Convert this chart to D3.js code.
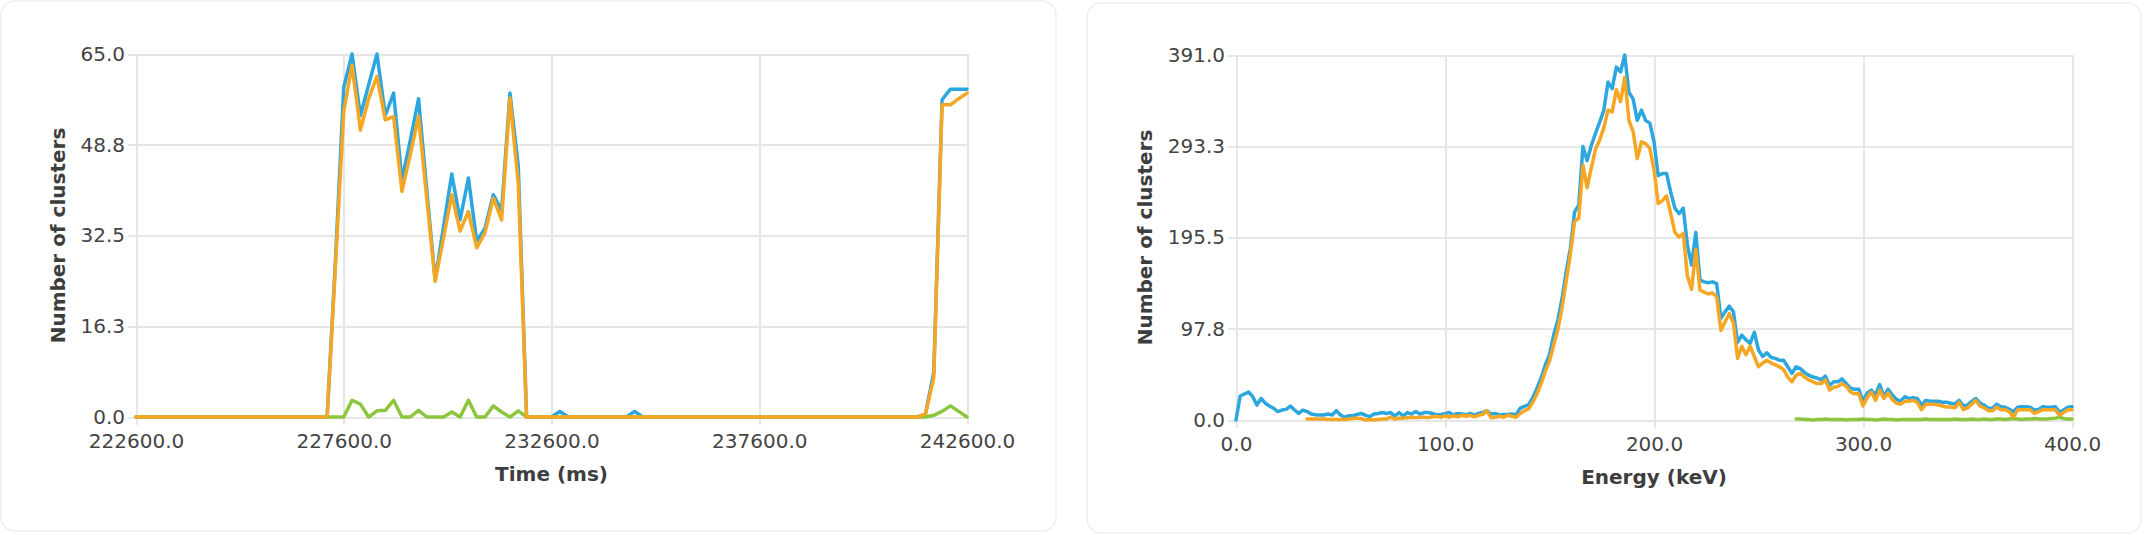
<!DOCTYPE html>
<html>
<head>
<meta charset="utf-8">
<script src="https://d3js.org/d3.v7.min.js"></script>
<style>
  body { margin: 0; background: #fff; }
  .tick text { font-family: "DejaVu Sans", Verdana, sans-serif; font-size: 20px; fill: #444; }
  .grid line { stroke: #e6e6e6; stroke-width: 2px; shape-rendering: crispEdges; }
  .grid path { display: none; }
  .title { font-family: "DejaVu Sans", Verdana, sans-serif; font-size: 20px; font-weight: bold; fill: #3d3d3d; }
  .series { fill: none; stroke-width: 3.5px; stroke-linejoin: round; stroke-linecap: round; }
</style>
</head>
<body>
<script>
// ---- left chart: clusters over time (200 ms bins, 222600..242600) ----
var timeStart = 222600, timeStep = 200;
var timeTicks = [222600, 227600, 232600, 237600, 242600];
var timeAll = [
  0,0,0,0,0,0,0,0,0,0, 0,0,0,0,0,0,0,0,0,0, 0,0,0,0,28,59,65,54,59.5,65,
  54,58,42.5,49.5,57,40.5,24.5,34,43.5,35.3, 42.8,31.5,33.8,39.8,37,58,45,0,0,0,
  0,1,0,0,0,0,0,0,0,0, 1,0,0,0,0,0,0,0,0,0, 0,0,0,0,0,0,0,0,0,0,
  0,0,0,0,0,0,0,0,0,0, 0,0,0,0,0,0.5,8,56.8,58.7,58.7, 58.7
];
var timeSingle = [
  0,0,0,0,0,0,0,0,0,0, 0,0,0,0,0,0,0,0,0,0, 0,0,0,0,27,54.7,63,51.4,57,61,
  53.2,53.8,40.4,47,53.8,39,24.3,32,39.8,33.3, 36.8,30.3,33,39.2,35.3,57.1,41.9,0,0,0,
  0,0,0,0,0,0,0,0,0,0, 0,0,0,0,0,0,0,0,0,0, 0,0,0,0,0,0,0,0,0,0,
  0,0,0,0,0,0,0,0,0,0, 0,0,0,0,0,0.5,7,55.9,55.9,57, 58
];
var timeMulti = [
  0,0,0,0,0,0,0,0,0,0, 0,0,0,0,0,0,0,0,0,0, 0,0,0,0,0,0,3,2.3,0,1.1,
  1.2,3,0,0,1.2,0,0,0,0.9,0, 3,0,0,2,0.9,0,1.1,0,0,0,
  0,0,0,0,0,0,0,0,0,0, 0,0,0,0,0,0,0,0,0,0, 0,0,0,0,0,0,0,0,0,0,
  0,0,0,0,0,0,0,0,0,0, 0,0,0,0,0,0,0.3,1,2,1, 0
];

// ---- right chart: energy spectrum (2 keV bins) ----
var energyStep = 2;
var energyTicks = [0, 100, 200, 300, 400];
var energyAllStart = 0;
var energyAll = [
  0,25.7,27.9,30,25,16,23,18,15,12.5,
  9,10.7,11.4,15,10.7,7,10.7,9,6.4,5.7,
  5.4,5.4,6.4,5.4,10,5.4,2.9,4.6,4.6,6,
  7,5,3.6,6.4,7,8,7,8,4.3,8,
  4.3,8,6.4,9,6.4,8,8,7,5.4,6,
  6.8,8,5.4,7,6.4,5.4,7,5.4,7,8,
  10,6.4,7,5.4,6,6,6.4,5.4,12.8,14.6,
  16.4,24,34,45,59,70,91,107,130,159,
  184,223,230,293,278,294,307,319,332,362,
  355,378,373,391,351,344,321,332,321,318,
  298,262,264,264,244,227,221,227,187,166,
  201,150,148,147,148,146,109,116,122,116,
  83,91,86,82,94,75,68,72,67,66,
  64,64,57,50,57,55,51,48,46,45,
  43,47,37,41,41,44,39,34,33,33,
  20,29,32,27,38,25,33,27,22,20,
  25,23,24,23,16,21,20,20,20,19,
  19,18,17,21,15,16,20,23,18,16,
  12.5,12.5,17,14.3,13.6,11.4,9,13.6,14.3,14.3,
  13.6,10.7,11.4,14.3,13.6,13.6,14.3,8.6,10.7,13.6,
  14.3
];
var energySingleStart = 34;
var energySingle = [
  1,1,1,1,1,0.5,0.5,0.5,0.5,0.5,
  1,1.5,2,1.5,0,0.5,0,0.5,1,1,
  3,1,2,2,2.5,3,2.5,3,3,2.5,
  3.5,4,3,4.5,3,4.5,3.5,5,4,5,
  3.5,5,6,10,2.5,3,4,3,5,4,
  3,7,10,12,19,28,39,52,63,80,
  97,120,149,178,213,216,273,249,270,290,
  300,313,332,330,354,341,367,321,309,280,
  298,296,291,268,232,235,240,221,201,196,
  200,154,140,183,139,137,135,136,132,96,
  105,114,104,66,79,70,79,68,57,61,
  64,61,59,57,54,46,41,48,50,46,
  43,41,39,39,43,32,35,36,39,36,
  30,28,28,15,24,30,21,32,23,29,
  22,18,17,20,20,21,19,11,17,17,
  17,16,15,14,14,13,19,11,13,17,
  21,15,13,10,10,14,11,11,9,3,
  11,11,11,11,7,9,11,11,11,11,
  5,8,11,11
];
var energyMultiStart = 268;
var energyMulti = [
  1,1,0.5,0.5,0,0.5,0.5,1,0.5,0.5,
  0.5,0.5,0,0.5,0.5,0.5,1,0.5,0.5,0,
  0.5,1,0.5,0.5,0,0.5,0.5,0.5,0.5,0.5,
  0.5,1,0.5,0.5,0.5,0.5,0.5,0.5,1,0.5,
  0.5,0.5,1,0.5,0.5,1,0.5,0.5,1,1,
  0.5,1,1.5,1,0.5,1,1,1.5,1,1,
  1,1.5,2,3,1.5,1,1
];

var seriesColors = ["#2ba6df", "#8cc63f", "#f5a623"]; // all, multi, single

function toPoints(start, step, values) {
  return values.map(function(v, i) { return {x: start + i * step, y: v}; });
}

var svg = d3.select("body").append("svg")
  .attr("width", 2144)
  .attr("height", 535);

// cards
svg.append("rect").attr("x", 1).attr("y", 1).attr("width", 1055).attr("height", 530)
  .attr("rx", 14).attr("fill", "#fff").attr("stroke", "#efefef").attr("stroke-width", 1.5);
svg.append("rect").attr("x", 1087).attr("y", 3).attr("width", 1054).attr("height", 530)
  .attr("rx", 14).attr("fill", "#fff").attr("stroke", "#efefef").attr("stroke-width", 1.5);

function drawChart(cfg) {
  var w = cfg.x1 - cfg.x0, h = cfg.y1 - cfg.y0;
  var g = svg.append("g").attr("transform", "translate(" + cfg.x0 + "," + cfg.y0 + ")");

  var allSeries = cfg.series;
  var maxY = d3.max(allSeries, function(s) { return d3.max(s, function(d) { return d.y; }); });

  var x = d3.scaleLinear().domain(cfg.xDomain).range([0, w]);
  var y = d3.scaleLinear().domain([0, maxY]).range([h, 0]);

  var yAxis = d3.axisLeft(y)
    .tickValues([0, maxY / 4, maxY / 2, maxY * 3 / 4, maxY])
    .tickFormat(d3.format(".1f"))
    .tickSizeInner(-w)
    .tickSizeOuter(0)
    .tickPadding(11);
  var xAxis = d3.axisBottom(x)
    .tickValues(cfg.xTicks)
    .tickFormat(d3.format(".1f"))
    .tickSizeInner(-h)
    .tickSizeOuter(0);

  var gy = g.append("g").attr("class", "grid").call(yAxis);
  gy.selectAll(".tick line").attr("x1", -8);

  var gx = g.append("g").attr("class", "grid")
    .attr("transform", "translate(0," + h + ")")
    .call(xAxis);
  gx.selectAll(".tick line").attr("y1", 8);
  gx.selectAll(".tick text").attr("y", 30.5).attr("dy", 0);

  var line = d3.line()
    .x(function(d) { return x(d.x); })
    .y(function(d) { return y(d.y); });

  allSeries.forEach(function(s, i) {
    g.append("path")
      .datum(s)
      .attr("class", "series")
      .attr("stroke", seriesColors[i])
      .attr("d", line);
  });

  g.append("text")
    .attr("class", "title")
    .attr("text-anchor", "middle")
    .attr("x", w / 2)
    .attr("y", h + cfg.xTitleDy)
    .text(cfg.xTitle);

  g.append("text")
    .attr("class", "title")
    .attr("text-anchor", "middle")
    .attr("transform", "translate(" + cfg.yTitleX + "," + (h / 2) + ") rotate(-90)")
    .text("Number of clusters");
}

drawChart({
  x0: 136, x1: 967, y0: 54, y1: 417,
  xDomain: [timeTicks[0], timeTicks[timeTicks.length - 1]],
  xTicks: timeTicks,
  xTitle: "Time (ms)",
  xTitleDy: 64,
  yTitleX: -71,
  series: [
    toPoints(timeStart, timeStep, timeAll),
    toPoints(timeStart, timeStep, timeMulti),
    toPoints(timeStart, timeStep, timeSingle)
  ]
});

drawChart({
  x0: 1236, x1: 2072, y0: 55, y1: 420,
  xDomain: [energyTicks[0], energyTicks[energyTicks.length - 1]],
  xTicks: energyTicks,
  xTitle: "Energy (keV)",
  xTitleDy: 64,
  yTitleX: -84,
  series: [
    toPoints(energyAllStart, energyStep, energyAll),
    toPoints(energyMultiStart, energyStep, energyMulti),
    toPoints(energySingleStart, energyStep, energySingle)
  ]
});
</script>
</body>
</html>
